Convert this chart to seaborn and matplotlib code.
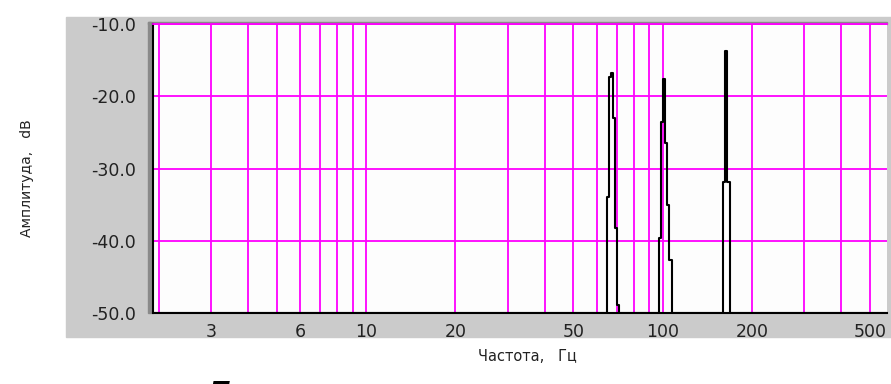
import numpy as np
import pandas as pd
import seaborn as sns
import matplotlib as mpl
import matplotlib.pyplot as plt
from matplotlib.patches import Rectangle

## DATA: spectrum drawn as steps (value holds until next frequency)
freq_hz = [1.91, 65.1, 66.0, 66.8, 67.8, 68.9, 70.1, 71.3,
           97.3, 98.8, 100.0, 102.0, 103.3, 105.2, 107.4,
           159.6, 162.7, 164.6, 168.9, 571.0]
ampl_db = [-50.0, -33.9, -17.3, -16.8, -23.0, -38.2, -48.9, -50.0,
           -39.6, -23.6, -17.6, -26.5, -35.1, -42.6, -50.0,
           -31.9, -13.8, -31.9, -50.0, -50.0]

grid_x = [2, 3, 4, 5, 6, 7, 8, 9, 10, 20, 30, 40, 50, 60, 70, 80, 90,
          100, 200, 300, 400, 500]
label_x = [3, 6, 10, 20, 50, 100, 200, 500]
y_ticks = [-50, -40, -30, -20, -10]

spec = pd.DataFrame({'f': freq_hz, 'a': ampl_db})

sns.set_style("white")
plt.rcParams['font.family'] = ['DejaVu Sans']

fig = plt.figure(figsize=(8.91, 3.84), dpi=100)
W, H = 891, 384

# grey panel behind the plot
fig.patches.append(Rectangle((66 / W, 1 - 337 / H), (W - 66) / W, (337 - 17) / H,
                             transform=fig.transFigure, color='#cbcbcb', zorder=0))
# sunken border (top and left)
fig.patches.append(Rectangle((148 / W, 1 - 24 / H), (887 - 148) / W, 2.5 / H,
                             transform=fig.transFigure, color='#8a8a8a', zorder=1))
fig.patches.append(Rectangle((148 / W, 1 - 313 / H), 3 / W, (313 - 22) / H,
                             transform=fig.transFigure, color='#8a8a8a', zorder=1))

ax = fig.add_axes([153 / W, 1 - 313 / H, (887 - 153) / W, (313 - 24) / H])
ax.set_zorder(3)
ax.set_facecolor('#fdfdfd')

sns.lineplot(data=spec, x='f', y='a', sort=False, estimator=None,
             drawstyle='steps-post', color='black', lw=1.5, ax=ax, zorder=3)

ax.set_xscale('log')
ax.set_xlim(1.91, 571)
ax.set_ylim(-50, -10)

ax.xaxis.set_major_locator(mpl.ticker.FixedLocator(grid_x))
ax.xaxis.set_minor_locator(mpl.ticker.NullLocator())
ax.xaxis.set_major_formatter(mpl.ticker.FuncFormatter(
    lambda v, pos: ('%d' % v) if int(round(v)) in label_x else ''))
ax.set_yticks(y_ticks)
ax.yaxis.set_major_formatter(mpl.ticker.FormatStrFormatter('%.1f'))

ax.grid(True, which='major', color='#ff00ff', lw=1.3, zorder=1)
ax.set_axisbelow(True)

ax.tick_params(axis='x', direction='out', length=3.5, width=1.2, color='black',
               labelsize=12.5, pad=4, labelcolor='#222222')
ax.tick_params(axis='y', direction='out', length=3.5, width=1.2, color='black',
               labelsize=12.5, pad=9, labelcolor='#222222')

for s in ['left', 'bottom']:
    ax.spines[s].set_color('black')
    ax.spines[s].set_linewidth(1.5)
ax.spines['right'].set_visible(False)
ax.spines['top'].set_color('#ff00ff')
ax.spines['top'].set_linewidth(1.3)

ax.set_xlabel('Частота,   Гц', fontsize=10.5, color='#222222')
ax.set_ylabel('Амплитуда,   dB', fontsize=10, color='#222222')
ax.xaxis.set_label_coords((527 - 153) / 734, (313 - 349) / 289)
ax.yaxis.set_label_coords((34 - 153) / 734, (313 - 178) / 289)

# caption fragment cut off at the bottom edge
fig.text(205 / W, 1 - 380 / H, 'Д', fontsize=22, fontstyle='italic',
         fontweight='bold', va='top', ha='left', color='black')

fig.savefig('out.png', dpi=100)
